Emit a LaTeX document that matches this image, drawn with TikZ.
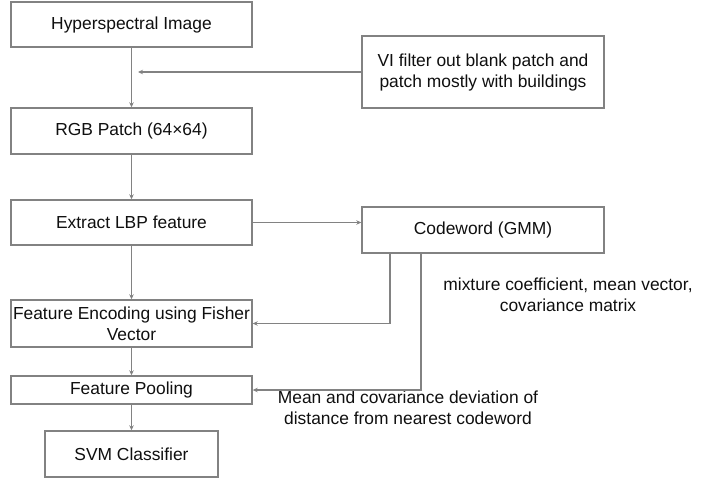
\documentclass[tikz,border=0pt]{standalone}
\usepackage{fontspec}
\setmainfont{Liberation Sans}
\usetikzlibrary{arrows.meta}
\definecolor{ln}{RGB}{130, 130, 130}
\definecolor{tx}{RGB}{15, 15, 15}

\begin{document}
\begin{tikzpicture}[
  box/.style={rectangle, draw=ln, line width=1.4pt, fill=white, text=tx, inner sep=1pt, minimum width=241pt, minimum height=45pt, align=center, font=\fontsize{17.4}{21}\selectfont},
  lbl/.style={text=tx, align=center, inner sep=0pt, font=\fontsize{17.4}{21}\selectfont},
  link/.style={line width=1.4pt, color=ln, -{Stealth[length=5pt, width=4.5pt]}}]
\useasboundingbox (0pt, 0pt) rectangle (705pt, -483pt);
\node (1) [box] at (131.5pt, -24.5pt) {Hyperspectral Image};
\node (2) [box, minimum height=46pt] at (131.5pt, -131.0pt) {RGB Patch (64×64)};
\node (3) [box] at (131.5pt, -222.5pt) {Extract LBP feature};
\node (4) [box, minimum height=47pt] at (131.5pt, -323.5pt) {Feature Encoding using Fisher\\Vector};
\node (5) [box, minimum height=28pt] at (131.5pt, -390.0pt) {Feature Pooling};
\node (6) [box, minimum width=173pt, minimum height=46pt] at (131.5pt, -454.0pt) {SVM Classifier};
\node (7) [box, minimum width=242pt, minimum height=72pt] at (483.0pt, -72.0pt) {VI filter out blank patch and\\patch mostly with buildings};
\node (8) [box, minimum width=242pt, minimum height=46pt] at (483.0pt, -230.0pt) {Codeword (GMM)};
\node (9) [lbl] at (568.0pt, -295.0pt) {mixture coefficient, mean vector,\\covariance matrix};
\node (10) [lbl] at (408.0pt, -408.0pt) {Mean and covariance deviation of\\distance from nearest codeword};
\coordinate (j) at (138.0pt, -72.0pt);
\draw [link] (1) to (2);
\draw [link] (2) to (3);
\draw [link] (3) to (4);
\draw [link] (4) to (5);
\draw [link] (5) to (6);
\draw [link] (7.west) to (j);
\draw [link] (3.east) to (3.east -| 8.west);
\draw [link] ([xshift=-93pt]8.south) |- (4.east);
\draw [link] ([xshift=-62pt]8.south) |- (5.east);
\end{tikzpicture}
\end{document}
